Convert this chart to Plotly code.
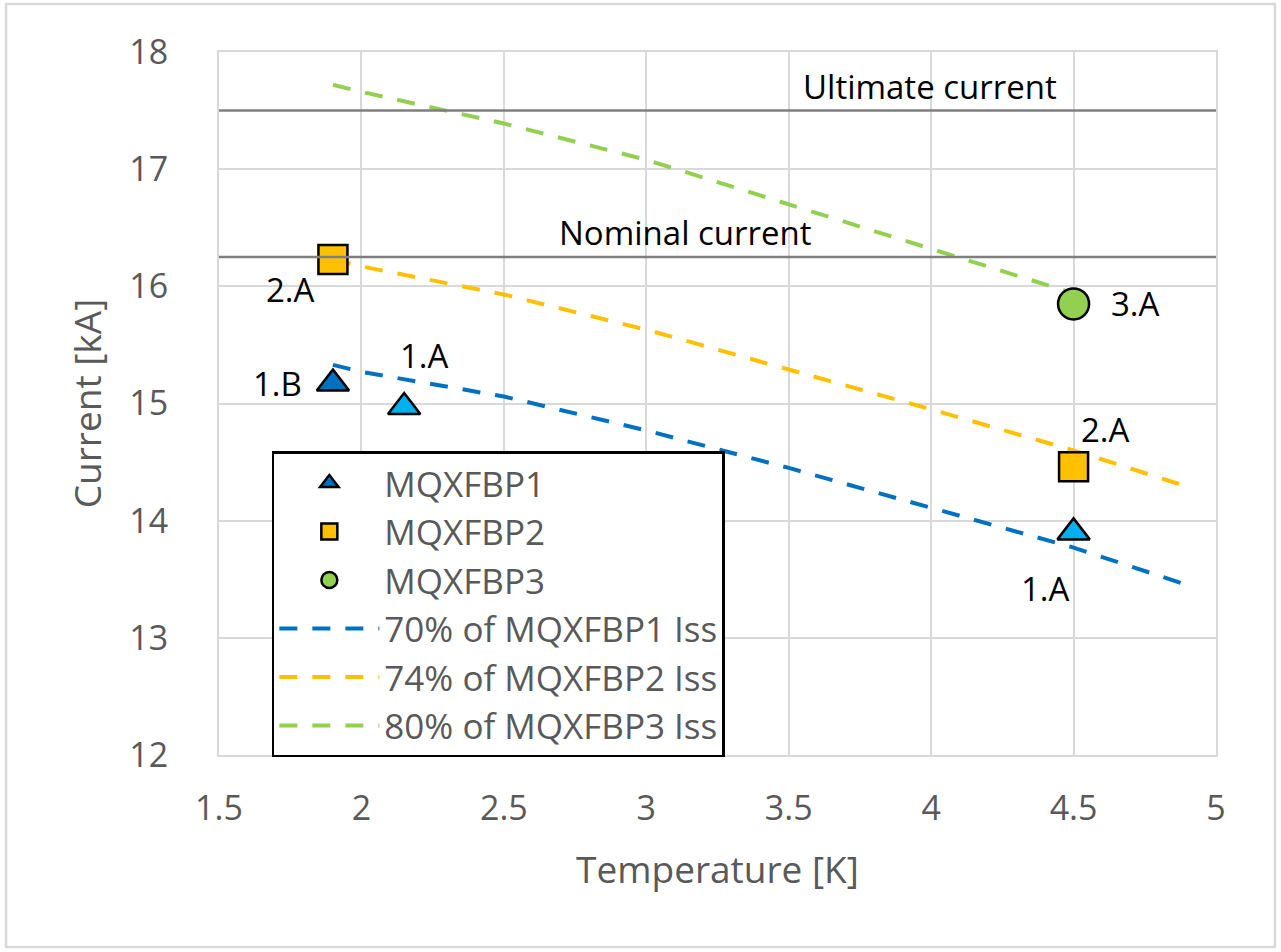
import plotly.graph_objects as go

# ---- data ----
p1_T = [1.9, 2.15, 4.5]
p1_I = [15.17, 14.97, 13.9]
p1_lbl = ["1.B", "1.A", "1.A"]
p1_colors = ["#0070C0", "#00B0F0", "#00B0F0"]

p2_T = [1.9, 4.5]
p2_I = [16.23, 14.46]
p2_lbl = ["2.A", "2.A"]

p3_T = [4.5]
p3_I = [15.85]
p3_lbl = ["3.A"]

curve_T = [1.9, 2.0, 2.5, 3.0, 3.5, 4.0, 4.5, 4.9]
iss70_p1 = [15.33, 15.27, 15.06, 14.77, 14.45, 14.11, 13.77, 13.45]
iss74_p2 = [16.23, 16.17, 15.93, 15.63, 15.29, 14.95, 14.60, 14.29]
curve3_T = [1.9, 2.0, 2.5, 3.0, 3.5, 4.0, 4.5]
iss80_p3 = [17.72, 17.66, 17.39, 17.08, 16.70, 16.32, 15.94]

ultimate_current = 17.5
nominal_current = 16.25

x_ticks = [1.5, 2, 2.5, 3, 3.5, 4, 4.5, 5]
y_ticks = [12, 13, 14, 15, 16, 17, 18]

FONT = "Open Sans"
GRAY = "#595959"

fig = go.Figure()

dash = "18px,15px"
fig.add_trace(go.Scatter(x=curve_T, y=iss70_p1, mode="lines", name="70% of MQXFBP1 Iss",
                         line=dict(color="#0070C0", width=4, dash=dash), legendgroup="d", legendrank=4))
fig.add_trace(go.Scatter(x=curve_T, y=iss74_p2, mode="lines", name="74% of MQXFBP2 Iss",
                         line=dict(color="#FFC000", width=4, dash=dash), legendgroup="e", legendrank=5))
fig.add_trace(go.Scatter(x=curve3_T, y=iss80_p3, mode="lines", name="80% of MQXFBP3 Iss",
                         line=dict(color="#92D050", width=4, dash=dash), legendgroup="f", legendrank=6))

fig.add_trace(go.Scatter(x=p1_T, y=p1_I, mode="markers", name="MQXFBP1", legendgroup="a", legendrank=1,
                         marker=dict(symbol="triangle-up", size=28, color=p1_colors,
                                     line=dict(color="black", width=2.5))))
fig.add_trace(go.Scatter(x=p2_T, y=p2_I, mode="markers", name="MQXFBP2", legendgroup="b", legendrank=2,
                         marker=dict(symbol="square", size=29, color="#FFC000",
                                     line=dict(color="black", width=2.5))))
fig.add_trace(go.Scatter(x=p3_T, y=p3_I, mode="markers", name="MQXFBP3", legendgroup="c", legendrank=3,
                         marker=dict(symbol="circle", size=31, color="#92D050",
                                     line=dict(color="black", width=2.5))))

# reference lines
for val in (ultimate_current, nominal_current):
    fig.add_shape(type="line", xref="paper", x0=0, x1=1, yref="y", y0=val, y1=val,
                  line=dict(color="#7F7F7F", width=2.5))

# outer frame
fig.add_shape(type="rect", xref="paper", yref="paper", x0=-0.2136, x1=1.0592, y0=-0.2731, y1=1.0683,
              line=dict(color="#D9D9D9", width=2.5), layer="below")

ann_font = dict(family=FONT, size=33, color="black")
fig.add_annotation(x=4.45, y=ultimate_current, text="Ultimate current", showarrow=False,
                   xanchor="right", yanchor="bottom", yshift=0, font=ann_font)
fig.add_annotation(x=3.59, y=nominal_current, text="Nominal current", showarrow=False,
                   xanchor="right", yanchor="bottom", yshift=0, font=ann_font)

shifts = {
    ("p1", 0): (-55, 0), ("p1", 1): (20, 52), ("p1", 2): (-28, -56),
    ("p2", 0): (-42, -30), ("p2", 1): (32, 37),
    ("p3", 0): (62, 0),
}
for key, T, I, L in (("p1", p1_T, p1_I, p1_lbl), ("p2", p2_T, p2_I, p2_lbl), ("p3", p3_T, p3_I, p3_lbl)):
    for i, (t, c, l) in enumerate(zip(T, I, L)):
        dx, dy = shifts[(key, i)]
        fig.add_annotation(x=t, y=c, text=l, showarrow=False, xshift=dx, yshift=dy, font=ann_font)

fig.update_layout(
    width=1281, height=952,
    margin=dict(l=219, r=65, t=52, b=197),
    paper_bgcolor="white", plot_bgcolor="white",
    font=dict(family=FONT, color=GRAY, size=34),
    showlegend=True,
    legend=dict(x=0.053, y=0.432, xanchor="left", yanchor="top",
                bgcolor="white", bordercolor="black", borderwidth=2.5,
                font=dict(family=FONT, size=35, color=GRAY),
                traceorder="grouped", tracegroupgap=0, itemwidth=100),
    xaxis=dict(range=[1.5, 5], tickvals=x_ticks, ticktext=[str(v) for v in x_ticks],
               showgrid=True, gridcolor="#D9D9D9", gridwidth=2, zeroline=False,
               showline=True, linecolor="#D9D9D9", linewidth=2, mirror=True,
               ticks="", ticklabelstandoff=22,
               title=dict(text="Temperature [K]", font=dict(size=37, color=GRAY), standoff=28),
               tickfont=dict(size=34, color=GRAY)),
    yaxis=dict(range=[12, 18], tickvals=y_ticks,
               showgrid=True, gridcolor="#D9D9D9", gridwidth=2, zeroline=False,
               showline=True, linecolor="#D9D9D9", linewidth=2, mirror=True,
               ticks="", ticklabelstandoff=42,
               title=dict(text="Current [kA]", font=dict(size=37, color=GRAY), standoff=16),
               tickfont=dict(size=34, color=GRAY)),
)

fig.write_html("out.html")
